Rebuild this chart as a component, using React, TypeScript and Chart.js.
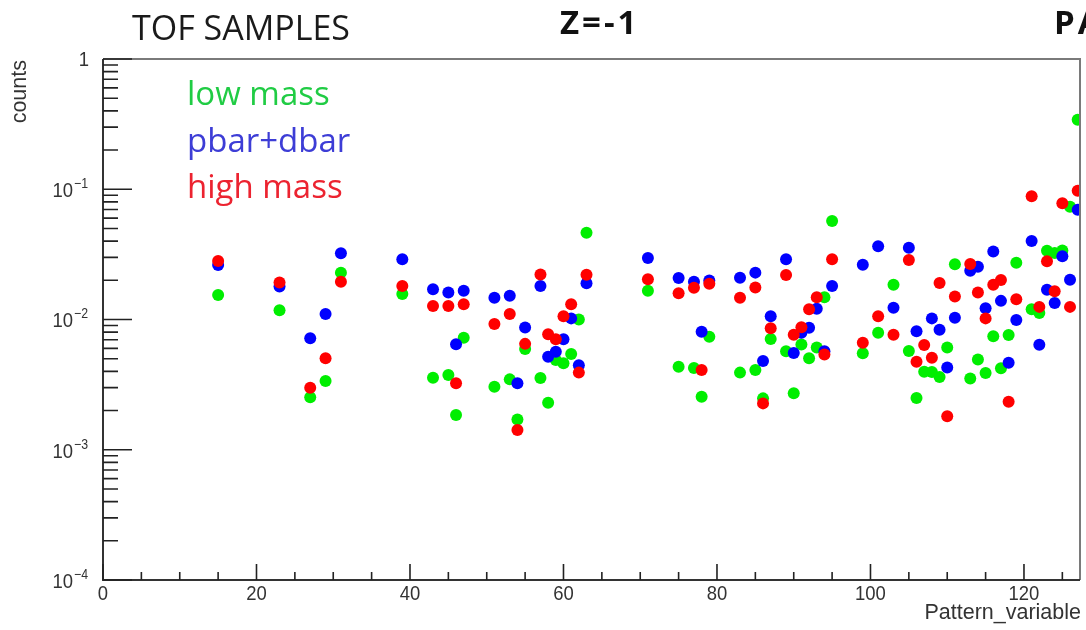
import React, { useEffect, useRef } from "react";
import { Chart, registerables } from "chart.js";

Chart.register(...registerables);

// Pattern_variable bins that hold entries
const patternX = [
  15, 23, 27, 29, 31, 39, 43, 45, 46, 47, 51, 53, 54, 55, 57, 58, 59, 60, 61, 62,
  63, 71, 75, 77, 78, 79, 83, 85, 86, 87, 89, 90, 91, 92, 93, 94, 95, 99, 101, 103,
  105, 106, 107, 108, 109, 110, 111, 113, 114, 115, 116, 117, 118, 119, 121, 122,
  123, 124, 125, 126, 127,
];

// normalised counts per sample
const lowMass = [
  0.0154, 0.0118, 0.00253, 0.00337, 0.0229, 0.0157, 0.00357, 0.00375, 0.00185, 0.00725,
  0.00305, 0.00347, 0.00171, 0.00594, 0.00356, 0.0023, 0.00489, 0.00461, 0.00543, 0.01,
  0.0464, 0.0166, 0.00434, 0.00424, 0.00255, 0.00738, 0.00391, 0.00409, 0.00248, 0.00708,
  0.0057, 0.00271, 0.00643, 0.00504, 0.0061, 0.0148, 0.0571, 0.0055, 0.00792, 0.0185,
  0.00573, 0.0025, 0.00397, 0.00395, 0.00362, 0.0061, 0.0266, 0.00353, 0.00494, 0.00388,
  0.00743, 0.00422, 0.0076, 0.0273, 0.012, 0.0112, 0.0337, 0.0324, 0.0338, 0.0734, 0.342,
];

const pbarDbar = [
  0.0262, 0.0179, 0.00717, 0.011, 0.0322, 0.029, 0.0171, 0.0161, 0.00645, 0.0166,
  0.0147, 0.0152, 0.00324, 0.00868, 0.0181, 0.00518, 0.00566, 0.00705, 0.0102, 0.00445,
  0.019, 0.0297, 0.0208, 0.0195, 0.00806, 0.0199, 0.0209, 0.0229, 0.0048, 0.0106,
  0.029, 0.00553, 0.00792, 0.00865, 0.0121, 0.00571, 0.0181, 0.0263, 0.0365, 0.0123,
  0.0356, 0.00813, null, 0.0102, 0.00835, 0.00428, 0.0103, 0.0237, 0.0254, 0.0122,
  0.0333, 0.0139, 0.00466, 0.0099, 0.0401, 0.00641, 0.0169, 0.0134, 0.0306, 0.0202, 0.0697,
];

const highMass = [
  0.0281, 0.0192, 0.00299, 0.00504, 0.0195, 0.0181, 0.0127, 0.0127, 0.00324, 0.0131,
  0.00923, 0.011, 0.00142, 0.0065, 0.0222, 0.00769, 0.00705, 0.0106, 0.0131, 0.00391,
  0.0221, 0.0204, 0.0159, 0.0175, 0.00409, 0.0188, 0.0147, 0.0176, 0.00227, 0.00855,
  0.022, 0.00764, 0.00873, 0.012, 0.0148, 0.00539, 0.029, 0.00664, 0.0106, 0.00764,
  0.0286, 0.00474, 0.00637, 0.00509, 0.0191, 0.00181, 0.015, 0.0267, 0.0161, 0.0102,
  0.0185, 0.0201, 0.00234, 0.0143, 0.0883, 0.0125, 0.028, 0.0165, 0.078, 0.0125, 0.0975,
];

const xMajorTicks = [0, 20, 40, 60, 80, 100, 120];
const yDecades = [-4, -3, -2, -1, 0];

const sampleNames = ["low mass", "pbar+dbar", "high mass"];
const sampleTextColors = ["#20cc44", "#3d3dd6", "#ec2330"];

const toPoints = (vals: (number | null)[]) =>
  patternX.map((x, i) => ({ x, y: vals[i] }));

const LABEL_FONT = "'Liberation Sans', Arial, sans-serif";
const TEXT_FONT = "'Open Sans', 'Noto Sans', sans-serif";

// slightly condensed label text, like the Helvetica labels of a ROOT canvas
function condensedText(ctx: CanvasRenderingContext2D, s: string, x: number, y: number, sx: number) {
  ctx.save();
  ctx.translate(x, y);
  ctx.scale(sx, 1);
  ctx.fillText(s, 0, 0);
  ctx.restore();
}

// ROOT-like frame, inward ticks, tick labels and titles
const rootFrame = {
  id: "rootFrame",
  afterDatasetsDraw(chart: any) {
    const { ctx, chartArea: a, scales } = chart;
    const xs = scales.x;
    const ys = scales.y;
    ctx.save();

    // frame
    ctx.lineWidth = 2;
    ctx.strokeStyle = "#7a7a7a";
    ctx.beginPath();
    ctx.moveTo(a.left, a.top);
    ctx.lineTo(a.right, a.top);
    ctx.lineTo(a.right, a.bottom);
    ctx.stroke();
    ctx.strokeStyle = "#333";
    ctx.beginPath();
    ctx.moveTo(a.left, a.top);
    ctx.lineTo(a.left, a.bottom);
    ctx.lineTo(a.right, a.bottom);
    ctx.stroke();

    // y ticks (log)
    ctx.lineWidth = 1.6;
    ctx.strokeStyle = "#222";
    ctx.beginPath();
    yDecades.forEach((e) => {
      const py = ys.getPixelForValue(Math.pow(10, e));
      ctx.moveTo(a.left, py);
      ctx.lineTo(a.left + 29, py);
      if (e < 0) {
        for (let m = 2; m <= 9; m++) {
          const pm = ys.getPixelForValue(m * Math.pow(10, e));
          ctx.moveTo(a.left, pm);
          ctx.lineTo(a.left + 15, pm);
        }
      }
    });
    // x ticks
    for (let v = 0; v <= xs.max; v += 5) {
      const px = xs.getPixelForValue(v);
      const len = v % 20 === 0 ? 16 : 8;
      ctx.moveTo(px, a.bottom);
      ctx.lineTo(px, a.bottom - len);
    }
    ctx.stroke();

    // y tick labels
    ctx.fillStyle = "#333";
    ctx.textBaseline = "middle";
    ctx.textAlign = "right";
    yDecades.forEach((e) => {
      const py = ys.getPixelForValue(Math.pow(10, e));
      const right = a.left - 15;
      if (e === 0) {
        ctx.font = `21px ${LABEL_FONT}`;
        condensedText(ctx, "1", right + 1, py + 1, 0.88);
      } else {
        ctx.font = `14px ${LABEL_FONT}`;
        const sup = "\u2212" + String(-e);
        const supW = ctx.measureText(sup).width * 0.88;
        condensedText(ctx, sup, right, py - 5, 0.88);
        ctx.font = `21px ${LABEL_FONT}`;
        condensedText(ctx, "10", right - supW - 1, py + 2, 0.88);
      }
    });

    // x tick labels
    ctx.font = `21px ${LABEL_FONT}`;
    ctx.textAlign = "center";
    ctx.textBaseline = "top";
    xMajorTicks.forEach((v) => {
      condensedText(ctx, String(v), xs.getPixelForValue(v), a.bottom + 4, 0.88);
    });

    // axis titles
    ctx.font = `21.5px ${LABEL_FONT}`;
    ctx.textAlign = "right";
    ctx.textBaseline = "middle";
    ctx.fillText("Pattern_variable", a.right + 1, 613);
    ctx.save();
    ctx.translate(20, a.top + 1);
    ctx.rotate(-Math.PI / 2);
    ctx.textAlign = "right";
    ctx.fillText("counts", 0, 0);
    ctx.restore();

    // sample names inside the pad
    ctx.font = `33px ${TEXT_FONT}`;
    ctx.textAlign = "left";
    ctx.textBaseline = "middle";
    const legendY = [96, 143, 189];
    sampleNames.forEach((s, i) => {
      ctx.fillStyle = sampleTextColors[i];
      ctx.fillText(s, 187, legendY[i]);
    });

    // pad titles
    ctx.fillStyle = "#1a1a1a";
    ctx.font = `34px ${TEXT_FONT}`;
    ctx.fillText("TOF SAMPLES", 132, 30);
    ctx.fillStyle = "#111";
    ctx.font = `bold 33px ${TEXT_FONT}`;
    (ctx as any).letterSpacing = "3px";
    ctx.fillText("Z=-1", 560, 25);
    ctx.fillText("PA", 1054, 25);
    (ctx as any).letterSpacing = "0px";

    ctx.restore();
  },
};

export default function App() {
  const canvasRef = useRef<HTMLCanvasElement | null>(null);

  useEffect(() => {
    const canvas = canvasRef.current;
    if (!canvas) return;
    const chart = new Chart(canvas, {
      type: "scatter",
      data: {
        datasets: [
          {
            label: "low mass",
            data: toPoints(lowMass),
            backgroundColor: "#00ee00",
            borderWidth: 0,
            pointRadius: 6,
            order: 3,
            clip: 0,
          },
          {
            label: "pbar+dbar",
            data: toPoints(pbarDbar),
            backgroundColor: "#0000ff",
            borderWidth: 0,
            pointRadius: 6,
            order: 2,
            clip: 0,
          },
          {
            label: "high mass",
            data: toPoints(highMass),
            backgroundColor: "#ff0000",
            borderWidth: 0,
            pointRadius: 6,
            order: 1,
            clip: 0,
          },
        ],
      },
      options: {
        responsive: false,
        animation: false,
        devicePixelRatio: 1,
        layout: { padding: { left: 103, right: 4, top: 59, bottom: 50 } },
        plugins: {
          legend: { display: false },
          tooltip: { enabled: false },
        },
        scales: {
          x: { type: "linear", min: 0, max: 127.3, display: false },
          y: { type: "logarithmic", min: 1e-4, max: 1, display: false },
        },
      },
      plugins: [rootFrame],
    } as any);

    document.fonts
      .load(`28px 'Open Sans'`)
      .then(() => document.fonts.load(`bold 28px 'Open Sans'`))
      .then(() => document.fonts.load(`19px 'Liberation Sans'`))
      .then(() => chart.draw())
      .catch(() => undefined);

    return () => chart.destroy();
  }, []);

  return (
    <div style={{ position: "absolute", left: 0, top: 0, width: 1086, height: 630, background: "#fff" }}>
      <canvas ref={canvasRef} width={1086} height={630} />
    </div>
  );
}
